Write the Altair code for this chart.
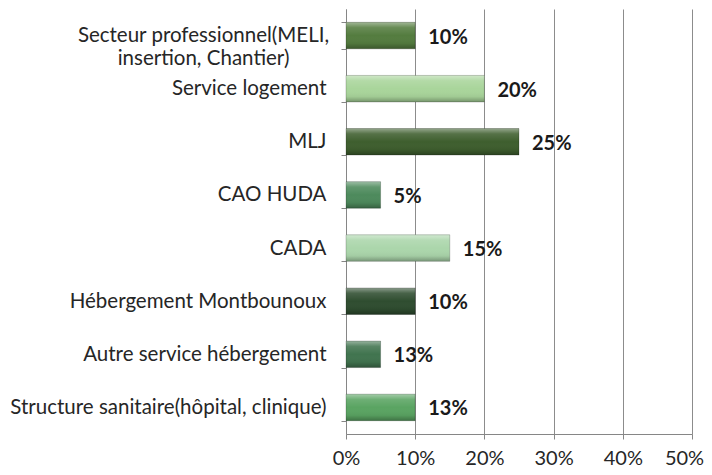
import altair as alt
import pandas as pd

categories = [
    "Secteur professionnel(MELI, insertion, Chantier)",
    "Service logement",
    "MLJ",
    "CAO HUDA",
    "CADA",
    "Hébergement Montbounoux",
    "Autre service hébergement",
    "Structure sanitaire(hôpital, clinique)",
]
bar_values = [10, 20, 25, 5, 15, 10, 5, 10]
value_labels = ["10%", "20%", "25%", "5%", "15%", "10%", "13%", "13%"]
bar_colors = ["#547c3f", "#a9d59b", "#3e5e2e", "#4d8a5c", "#abd6ab", "#2f4d30", "#41744f", "#5aa462"]
x_ticks = [0, 10, 20, 30, 40, 50]

df = pd.DataFrame({"cat": categories, "val": bar_values, "lbl": value_labels})

first = categories[0]
font = "Lato"

y_axis = alt.Axis(
    title=None,
    tickBand="extent",
    domainColor="#868686",
    tickColor="#868686",
    tickSize=5,
    labelFont=font,
    labelFontSize=20.5,
    labelColor="#262626",
    labelLimit=400,
    labelPadding=alt.ConditionalAxisNumber(
        condition={"test": f"datum.value == '{first}'", "value": 138},
        value=15,
    ),
    labelAlign=alt.ConditionalAxisLabelAlign(
        condition={"test": f"datum.value == '{first}'", "value": "center"},
        value="right",
    ),
    labelLineHeight=23,
    labelExpr=f"datum.label == '{first}' ? ['Secteur professionnel(MELI,', 'insertion, Chantier)'] : datum.label",
)

x_axis = alt.Axis(
    title=None,
    values=x_ticks,
    labelExpr="datum.value + '%'",
    labelFlush=False,
    labelOverlap=False,
    labelOffset=alt.ConditionalAxisNumber(
        condition={"test": "datum.value == 50", "value": -8},
        value=0,
    ),
    grid=True,
    gridColor="#8c8c8c",
    domainColor="#868686",
    tickColor="#868686",
    tickSize=5,
    labelFont=font,
    labelFontSize=20,
    labelColor="#262626",
    labelPadding=9,
)

base = alt.Chart(df).encode(
    y=alt.Y("cat:N", sort=categories,
            scale=alt.Scale(paddingInner=0.5, paddingOuter=0.25), axis=y_axis),
)

bars = base.mark_bar(cornerRadius=0).encode(
    x=alt.X("val:Q", scale=alt.Scale(domain=[0, 50], nice=False), axis=x_axis),
    color=alt.Color("cat:N", scale=alt.Scale(domain=categories, range=bar_colors), legend=None),
)

shine = base.mark_bar(
    fill=alt.Gradient(
        gradient="linear",
        x1=0, x2=0, y1=0, y2=1,
        stops=[
            alt.GradientStop(color="rgba(255,255,255,0.45)", offset=0),
            alt.GradientStop(color="rgba(255,255,255,0.12)", offset=0.2),
            alt.GradientStop(color="rgba(255,255,255,0)", offset=0.5),
            alt.GradientStop(color="rgba(0,0,0,0.05)", offset=0.8),
            alt.GradientStop(color="rgba(0,0,0,0.3)", offset=1),
        ],
    ),
    stroke="rgba(0,0,0,0.25)",
    strokeWidth=0.8,
).encode(x="val:Q")

text = base.mark_text(
    align="left", baseline="middle", dx=13, dy=2,
    font=font, fontSize=20, fontWeight="bold", color="#1a1a1a",
).encode(x="val:Q", text="lbl:N")

chart = (
    alt.layer(bars, shine, text)
    .properties(
        width=346,
        height=425,
        autosize=alt.AutoSizeParams(type="none"),
        padding={"left": 338, "top": 1, "right": 12, "bottom": 33},
    )
    .configure_view(stroke=None)
)

chart.save("out.html", embed_options={"renderer": "svg", "actions": False})
